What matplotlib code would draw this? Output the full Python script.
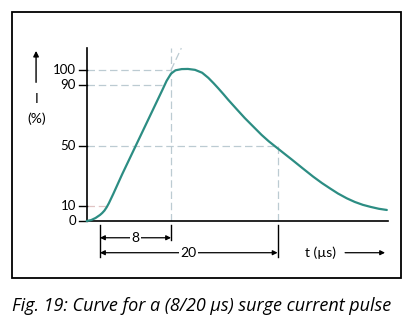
import matplotlib
matplotlib.use("Agg")
import matplotlib.pyplot as plt
from matplotlib.patches import Rectangle

plt.rcParams['font.family'] = ['Lato', 'DejaVu Sans']

# pulse shape, time in us, current in % of peak
t_us = [-1.5, -1.0, -0.5, 0.0, 0.25, 0.5, 0.75, 1.0, 1.5, 2.5, 4.0, 5.5, 7.0, 7.5,
        8.0, 8.5, 9.2, 9.9, 10.7, 11.5, 12.2, 12.8, 13.3, 13.9, 14.45, 15.4, 16.3,
        17.3, 18.2, 19.0, 19.9, 20.8, 21.6, 22.8, 24.0, 25.0, 25.9, 26.8, 27.8,
        28.7, 29.6, 30.5, 31.4, 32.3]
i_pct = [0.0, 0.6, 2.0, 4.0, 5.3, 6.9, 9.1, 11.8, 18.0, 31.0, 49.5, 68.0, 86.5, 92.8,
         97.6, 99.8, 100.6, 100.7, 100.1, 98.2, 94.8, 91.2, 88.0, 84.0, 80.2, 74.0,
         68.2, 62.3, 57.0, 52.8, 48.6, 44.4, 40.7, 35.0, 29.4, 25.1, 21.6, 18.2,
         15.0, 12.6, 10.7, 9.3, 8.1, 7.3]

y_ticks = [0, 10, 50, 90, 100]
t_front = 8      # front time
t_half = 20      # time to half value
t_start = -1.5   # where the axes cross
t_end = 32.4
i_top = 114.5

teal = '#2c8d83'
guide = '#bccbd2'

fig = plt.figure(figsize=(4.12, 3.23), dpi=100)
ax = fig.add_axes([0, 0, 1, 1])
# 1 us = 8.88 px, 1 % = 1.51 px, time origin at x=100 px, zero at y=221 px
ax.set_xlim(-100 / 8.88, 312 / 8.88)
ax.set_ylim(-102 / 1.51, 221 / 1.51)
ax.axis('off')

# dashed guide lines
dash = dict(color=guide, lw=0.9, ls=(0, (6, 3)), zorder=1)
ax.plot([t_start, t_front], [100, 100], **dash)
ax.plot([t_start, 7.24], [90, 90], **dash)
ax.plot([t_start, t_half], [50, 50], **dash)
ax.plot([t_start, 0.7], [10, 10], color='#e0c4c4', lw=0.9, ls=(0, (6, 3)), zorder=1)
ax.plot([t_front, t_front], [0, i_top], **dash)
ax.plot([t_half, t_half], [0, 50], **dash)
ax.plot([t_front, t_front * i_top / 100], [100, i_top], **dash)

# curve
ax.plot(t_us, i_pct, color=teal, lw=1.6, zorder=3, solid_capstyle='round',
        solid_joinstyle='round')

# axes lines
ax.plot([t_start, t_start], [0, i_top], color='black', lw=1.2, zorder=2)
ax.plot([t_start, t_end], [0, 0], color='black', lw=1.2, zorder=2)
for v in y_ticks:
    ax.plot([t_start - 0.9, t_start], [v, v], color='black', lw=1.0)
    ax.text(t_start - 1.2, v, str(v), ha='right', va='center', fontsize=9.5)

# I (%) label with arrow
ax.annotate('', xy=(-7.2, 114.5), xytext=(-7.2, 90),
            arrowprops=dict(arrowstyle='-|>', color='black', lw=1.0, mutation_scale=8))
ax.text(-7.1, 81, 'I', ha='center', va='center', fontsize=10)
ax.text(-7.1, 68, '(%)', ha='center', va='center', fontsize=10)

# time brackets below the axis
ax.plot([0, 0], [-2.6, -23.8], color='black', lw=1.0)
ax.plot([t_front, t_front], [-2.6, -12.6], color='black', lw=1.0)
ax.plot([t_half, t_half], [-2.6, -23.8], color='black', lw=1.0)
arw = dict(arrowstyle='<|-|>', color='black', lw=0.9, mutation_scale=7,
           shrinkA=0, shrinkB=0)
ax.annotate('', xy=(0, -11.1), xytext=(t_front, -11.1), arrowprops=arw)
ax.annotate('', xy=(0, -21.0), xytext=(t_half, -21.0), arrowprops=arw)
box = dict(facecolor='white', edgecolor='none', pad=1.0)
ax.text(t_front / 2, -11.1, str(t_front), ha='center', va='center', fontsize=10, bbox=box)
ax.text(t_half / 2, -21.0, str(t_half), ha='center', va='center', fontsize=10, bbox=box)

ax.text(24.8, -21.0, 't (µs)', ha='center', va='center', fontsize=10)
ax.annotate('', xy=(32.1, -21.0), xytext=(27.6, -21.0),
            arrowprops=dict(arrowstyle='-|>', color='black', lw=0.9, mutation_scale=7,
                            shrinkA=0, shrinkB=0))

# frame and caption
fig.patches.append(Rectangle((12 / 412, 1 - 278 / 323), 389 / 412, 266 / 323,
                             transform=fig.transFigure, fill=False,
                             edgecolor='black', lw=1.3))
fig.text(12 / 412, 1 - 311 / 323, 'Fig. 19: Curve for a (8/20 µs) surge current pulse',
         ha='left', va='baseline', fontsize=13, style='italic',
         family=['Open Sans', 'DejaVu Sans'])

fig.savefig('out.png', dpi=100)
